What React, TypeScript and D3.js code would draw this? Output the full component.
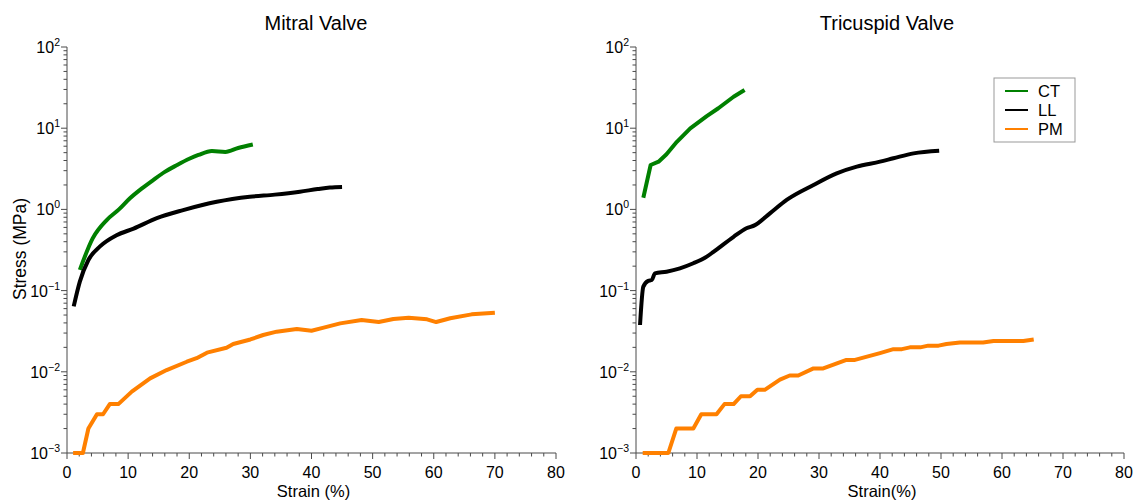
import React from "react";
import * as d3 from "d3";

// ---------- data ----------
const mitralCTStrain = [2.1, 4.2, 6.5, 8.5, 10.3, 12.2, 14.1, 16, 18, 20, 21.5, 23.7, 25.9, 28, 30.4];
const mitralCTStress = [0.18, 0.44, 0.74, 1.0, 1.37, 1.8, 2.3, 2.9, 3.52, 4.2, 4.68, 5.24, 5.1, 5.7, 6.3];

const mitralLLStrain = [1.1, 2.1, 3.5, 5.4, 8.1, 10.9, 14.7, 19, 24.5, 29.9, 34, 38.1, 41, 43, 45];
const mitralLLStress = [0.064, 0.129, 0.238, 0.35, 0.48, 0.58, 0.78, 0.98, 1.24, 1.43, 1.52, 1.65, 1.78, 1.86, 1.89];

const mitralPMStrain = [1, 2.6, 3.5, 4.9, 5.9, 7.0, 8.4, 10.6, 13.6, 16.3, 19.6, 21.2, 22.9, 26.1, 27.2, 30, 32.1, 34.3, 37.6, 40, 42, 44.7, 48.2, 51, 53.4, 55.9, 58.9, 60.4, 62.7, 66.2, 70];
const mitralPMStress = [0.001, 0.001, 0.002, 0.003, 0.003, 0.004, 0.004, 0.0057, 0.0083, 0.0105, 0.0133, 0.0147, 0.0172, 0.0198, 0.022, 0.025, 0.0284, 0.0312, 0.0337, 0.032, 0.035, 0.0395, 0.0434, 0.041, 0.0447, 0.0464, 0.0443, 0.041, 0.0456, 0.051, 0.0535];

const tricCTStrain = [1.2, 2.4, 3.7, 5.0, 6.7, 8.9, 11.6, 13.5, 16, 17.8];
const tricCTStress = [1.39, 3.52, 3.87, 4.77, 6.8, 9.96, 14.1, 17.6, 24.4, 29.5];

const tricLLStrain = [0.66, 1.2, 2.0, 2.6, 3.1, 5.0, 7.2, 9.4, 11.6, 12.7, 16, 18.1, 19.5, 22, 24.7, 29.1, 32.9, 36.2, 40, 42.2, 45.5, 49.7];
const tricLLStress = [0.0377, 0.112, 0.132, 0.135, 0.163, 0.171, 0.188, 0.217, 0.262, 0.3, 0.46, 0.585, 0.64, 0.9, 1.31, 2.0, 2.78, 3.36, 3.87, 4.26, 4.9, 5.28];

const tricPMStrain = [1.1, 5.3, 6.6, 9.4, 10.7, 13.2, 14.5, 16, 17.2, 18.7, 19.9, 21.1, 23.6, 25.2, 26.6, 29.1, 30.7, 34.5, 35.9, 40, 42.2, 43.6, 44.9, 46.6, 47.9, 49.6, 50.9, 53.1, 56.9, 58.6, 63.5, 65.2];
const tricPMStress = [0.001, 0.001, 0.002, 0.002, 0.003, 0.003, 0.004, 0.004, 0.005, 0.005, 0.006, 0.006, 0.008, 0.009, 0.009, 0.011, 0.011, 0.014, 0.014, 0.017, 0.019, 0.019, 0.02, 0.02, 0.021, 0.021, 0.022, 0.023, 0.023, 0.024, 0.024, 0.025];

const seriesNames = ["CT", "LL", "PM"];
const seriesColors = ["#008000", "#000000", "#ff8000"];

const xTicks = [0, 10, 20, 30, 40, 50, 60, 70, 80];
const yExponents = [-3, -2, -1, 0, 1, 2];

const FONT = "'Liberation Sans', Arial, Helvetica, sans-serif";

type Series = { x: number[]; y: number[]; smooth: boolean };
type Panel = {
  title: string;
  xLabel: string;
  left: number;
  right: number;
  titleX: number;
  showYLabel: boolean;
  showLegend: boolean;
  series: Series[];
};

const panels: Panel[] = [
  {
    title: "Mitral Valve",
    xLabel: "Strain (%)",
    left: 67,
    right: 556,
    titleX: 316,
    showYLabel: true,
    showLegend: false,
    series: [
      { x: mitralCTStrain, y: mitralCTStress, smooth: true },
      { x: mitralLLStrain, y: mitralLLStress, smooth: true },
      { x: mitralPMStrain, y: mitralPMStress, smooth: false },
    ],
  },
  {
    title: "Tricuspid Valve",
    xLabel: "Strain(%)",
    left: 636,
    right: 1124,
    titleX: 887,
    showYLabel: false,
    showLegend: true,
    series: [
      { x: tricCTStrain, y: tricCTStress, smooth: false },
      { x: tricLLStrain, y: tricLLStress, smooth: true },
      { x: tricPMStrain, y: tricPMStress, smooth: false },
    ],
  },
];

const TOP = 47;
const BOTTOM = 453;
const AXIS_COLOR = "#4a4a4a";

function supText(e: number) {
  return e < 0 ? "\u2212" + Math.abs(e) : String(e);
}

function PanelView({ p }: { p: Panel }) {
  const x = d3.scaleLinear().domain([0, 80]).range([p.left, p.right]);
  const y = d3.scaleLog().domain([1e-3, 1e2]).range([BOTTOM, TOP]);
  const minorX = d3.range(0, 81, 2).filter((v) => v % 10 !== 0);
  const minorY: number[] = [];
  for (let e = -3; e < 2; e++) {
    for (let k = 2; k <= 9; k++) minorY.push(k * Math.pow(10, e));
  }

  return (
    <g>
      <text x={p.titleX} y={30} textAnchor="middle" fontSize={20} fontFamily={FONT} fill="#000">
        {p.title}
      </text>
      {/* x axis */}
      <line x1={x(0)} x2={x(80)} y1={BOTTOM} y2={BOTTOM} stroke={AXIS_COLOR} strokeWidth={1} />
      {xTicks.map((t) => (
        <g key={"xt" + t}>
          <line x1={x(t)} x2={x(t)} y1={BOTTOM} y2={BOTTOM + 6} stroke={AXIS_COLOR} />
          <text x={x(t)} y={478} textAnchor="middle" fontSize={16} fontFamily={FONT} fill="#000">
            {t}
          </text>
        </g>
      ))}
      {minorX.map((t) => (
        <line key={"xm" + t} x1={x(t)} x2={x(t)} y1={BOTTOM} y2={BOTTOM + 3.5} stroke={AXIS_COLOR} />
      ))}
      <text x={(p.left + p.right) / 2 + 2} y={497} textAnchor="middle" fontSize={16.5} fontFamily={FONT} fill="#000">
        {p.xLabel}
      </text>
      {/* y axis */}
      <line x1={p.left} x2={p.left} y1={TOP} y2={BOTTOM} stroke={AXIS_COLOR} strokeWidth={1} />
      {yExponents.map((e) => {
        const yy = y(Math.pow(10, e));
        return (
          <g key={"yt" + e}>
            <line x1={p.left - 6} x2={p.left} y1={yy} y2={yy} stroke={AXIS_COLOR} />
            <text x={p.left - 7} y={yy + 6} textAnchor="end" fontSize={16} fontFamily={FONT} fill="#000">
              10
              <tspan fontSize={10.5} dy={-7}>
                {supText(e)}
              </tspan>
            </text>
          </g>
        );
      })}
      {minorY.map((v, i) => (
        <line key={"ym" + i} x1={p.left - 3.5} x2={p.left} y1={y(v)} y2={y(v)} stroke={AXIS_COLOR} />
      ))}
      {p.showYLabel && (
        <text
          transform={`translate(26,249) rotate(-90)`}
          textAnchor="middle"
          fontSize={17.5}
          fontFamily={FONT}
          fill="#000"
        >
          Stress (MPa)
        </text>
      )}
      {/* series */}
      {p.series.map((s, i) => {
        const pts: [number, number][] = s.x.map((v, j) => [v, s.y[j]]);
        const line = d3
          .line<[number, number]>()
          .x((d) => x(d[0]))
          .y((d) => y(d[1]))
          .curve(s.smooth ? d3.curveMonotoneX : d3.curveLinear);
        return (
          <path
            key={"s" + i}
            d={line(pts) || ""}
            fill="none"
            stroke={seriesColors[i]}
            strokeWidth={4}
            strokeLinejoin="round"
          />
        );
      })}
      {p.showLegend && (
        <g>
          <rect x={994} y={78} width={81} height={64} fill="#fff" stroke="#999" strokeWidth={1} />
          {seriesNames.map((n, i) => (
            <g key={"lg" + n}>
              <line x1={1005} x2={1028} y1={91 + i * 19} y2={91 + i * 19} stroke={seriesColors[i]} strokeWidth={2} />
              <text x={1038} y={97 + i * 19} fontSize={16.5} fontFamily={FONT} fill="#000">
                {n}
              </text>
            </g>
          ))}
        </g>
      )}
    </g>
  );
}

export default function App() {
  return (
    <svg
      width={1137}
      height={502}
      viewBox="0 0 1137 502"
      style={{ position: "absolute", left: 0, top: 0, background: "#fff" }}
    >
      <rect x={0} y={0} width={1137} height={502} fill="#fff" />
      {panels.map((p) => (
        <PanelView key={p.title} p={p} />
      ))}
    </svg>
  );
}
